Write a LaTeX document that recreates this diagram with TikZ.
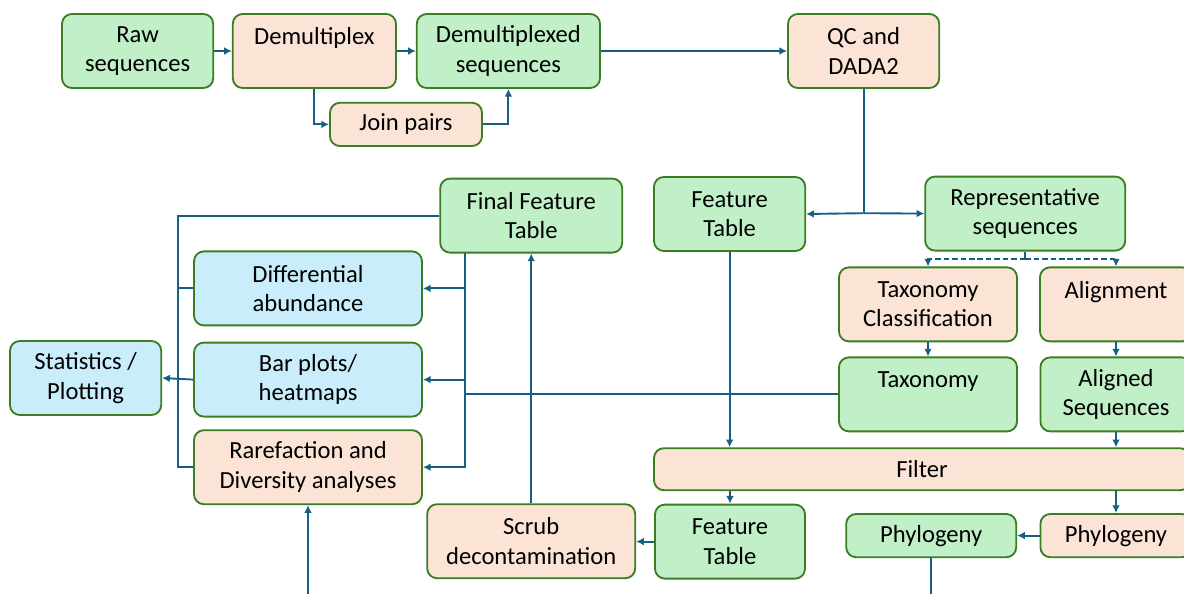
\documentclass[tikz,border=0pt]{standalone}
\usepackage{fontspec}
\setmainfont{Carlito}
\usetikzlibrary{arrows.meta,positioning}
\definecolor{datafill}{HTML}{C1F0C8}
\definecolor{procfill}{HTML}{FBE3D6}
\definecolor{plotfill}{HTML}{CAEDFB}
\definecolor{edgegreen}{HTML}{3A7D22}
\definecolor{linkblue}{HTML}{156082}

\begin{document}
\begin{tikzpicture}[
  box/.style={draw=edgegreen, line width=1.3pt, rounded corners=7pt, align=center, inner sep=2pt, minimum height=1.85cm, font=\fontsize{17.5}{21}\selectfont},
  data/.style={box, fill=datafill},
  process/.style={box, fill=procfill},
  result/.style={box, fill=plotfill},
  flow/.style={-{Latex[length=5.5pt,width=5.5pt]}, draw=linkblue, line width=1.35pt},
  link/.style={draw=linkblue, line width=1.35pt},
  choice/.style={flow, dash pattern=on 4pt off 2pt}
]
\useasboundingbox (0,0) rectangle (29.6,-14.85);
\clip (0,0) rectangle (29.6,-14.85);

% Row 1: import and demultiplexing
\node[data, minimum width=3.78cm] (raw) at (3.44,-1.275) {Raw\\sequences};
\node[process, minimum width=4.08cm] (demux) at (7.86,-1.275) {Demultiplex\\\mbox{}};
\node[data, minimum width=4.58cm] (demuxseq) at (12.71,-1.275) {Demultiplexed\\sequences};
\node[process, minimum width=3.8cm, minimum height=1.08cm] (join) at (10.15,-3.11) {Join pairs};
\node[process, minimum width=3.78cm] (qc) at (21.59,-1.275) {QC and\\DADA2};

\draw[flow] (raw) -- (demux);
\draw[flow] (demux) -- (demuxseq);
\draw[flow] (demux.south) |- (join.west);
\draw[flow] (join.east) -| (demuxseq.south);
\draw[flow] (demuxseq.east |- qc.west) -- (qc.west);

% Row 2: denoising outputs
\node[data, minimum width=3.78cm] (ft1) at (18.24,-5.35) {Feature\\Table};
\node[data, minimum width=5cm] (rep) at (25.63,-5.34) {Representative\\sequences};
\node[data, minimum width=4.55cm] (fft) at (13.28,-5.39) {Final Feature\\Table};
\coordinate (split) at (21.59,-5.33);

\draw[link] (qc.south) -- (split);
\draw[flow] (split) -- (ft1.east);
\draw[flow] (split) -- (rep.west);

% Taxonomy and alignment branch
\node[process, minimum width=4.45cm] (taxcl) at (23.2,-7.61) {Taxonomy\\Classification};
\node[process, minimum width=3.8cm] (align) at (27.9,-7.61) {Alignment\\\mbox{}};
\node[data, minimum width=4.45cm] (tax) at (23.2,-9.86) {Taxonomy\\\mbox{}};
\node[data, minimum width=3.78cm] (aligned) at (27.9,-9.86) {Aligned\\Sequences};
\coordinate (dsplit) at (25.63,-6.47);

\draw[link] (rep.south) -- (dsplit);
\draw[choice] (dsplit) -| (taxcl.north);
\draw[choice] (dsplit) -| (align.north);
\draw[flow] (taxcl) -- (tax);
\draw[flow] (align) -- (aligned);

% Filtering and phylogeny
\node[process, minimum width=13.4cm, minimum height=1.05cm] (filter) at (23.05,-11.73) {Filter};
\node[data, minimum width=3.75cm] (ft2) at (18.25,-13.54) {Feature\\Table};
\node[process, minimum width=5.2cm] (scrub) at (13.28,-13.53) {Scrub\\decontamination};
\node[data, minimum width=4.25cm, minimum height=1.08cm] (phylo) at (23.28,-13.39) {Phylogeny};
\node[process, minimum width=3.78cm, minimum height=1.08cm] (tree) at (27.9,-13.39) {Phylogeny};
\coordinate (phyend) at (23.28,-14.85);

\draw[flow] (ft1.south) -- (ft1.south |- filter.north);
\draw[flow] (aligned.south) -- (aligned.south |- filter.north);
\draw[flow] (ft2.north |- filter.south) -- (ft2.north);
\draw[flow] (tree.north |- filter.south) -- (tree.north);
\draw[flow] (ft2.west) -- (ft2.west -| scrub.east);
\draw[flow] (tree.west) -- (phylo.east);
\draw[link] (phylo.south) -- (phyend);
\draw[flow] (scrub.north) -- (fft.south -| scrub.north);

% Downstream analyses
\node[result, minimum width=5.7cm] (diff) at (7.7,-7.21) {Differential\\abundance};
\node[result, minimum width=5.7cm] (bar) at (7.7,-9.49) {Bar plots/\\heatmaps};
\node[result, minimum width=3.78cm] (stats) at (2.14,-9.45) {Statistics /\\Plotting};
\node[process, minimum width=5.7cm] (rare) at (7.7,-11.68) {Rarefaction and\\Diversity analyses};
\coordinate (rbus) at (11.63,-6.33);
\coordinate (lbus) at (4.45,-11.68);
\coordinate (rareend) at (7.7,-14.85);

\draw[flow] (rbus) |- (rare.east);
\draw[flow] (rbus |- diff.east) -- (diff.east);
\draw[flow] (rbus |- bar.east) -- (bar.east);
\draw[link] (tax.west) -- (tax.west -| rbus);
\draw[link] (fft.west) -| (lbus) -- (rare.west);
\draw[link] (diff.west) -- (diff.west -| lbus);
\draw[flow] (bar.west) -- (stats.east);
\draw[flow] (rareend) -- (rare.south);
\end{tikzpicture}
\end{document}
